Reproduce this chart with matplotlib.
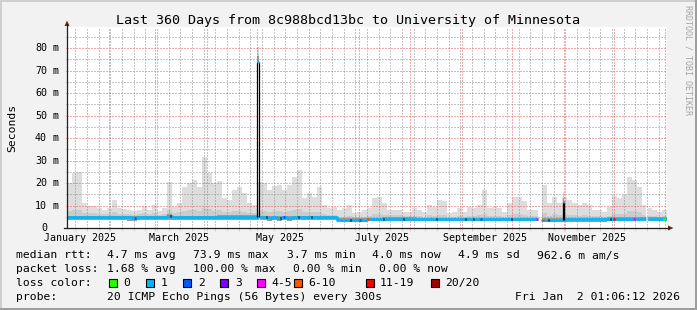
import numpy as np
import matplotlib
matplotlib.use("Agg")
import matplotlib.pyplot as plt
import matplotlib.dates as mdates
import matplotlib.transforms as mtransforms
from matplotlib.patches import Rectangle, Polygon
from matplotlib.lines import Line2D
from matplotlib.ticker import MultipleLocator

# ---------------- data ----------------
title = "Last 360 Days from 8c988bcd13bc to University of Minnesota"
range_start = "2025-01-07T01:06:12"
range_end = "2026-01-02T01:06:12"
bin_days = 3

median_rtt = [
    4.7, 4.7, 4.7, 4.7, 4.7, 4.7, 4.7, 4.7, 4.7, 4.7,
    4.7, 4.7, 4.7, 4.6, 4.7, 4.7, 4.7, 4.7, 4.7, 4.7,
    5.4, 4.7, 4.7, 4.7, 4.7, 4.7, 4.7, 4.7, 4.7, 4.7,
    5.0, 5.0, 5.0, 5.0, 5.0, 5.0, 5.0, 5.0, 4.7, 4.7,
    4.6, 4.7, 4.6, 4.7, 4.6, 4.7, 4.7, 4.7, 4.7, 4.7,
    4.7, 4.7, 4.7, 4.7, 3.6, 3.6, 3.6, 3.6, 3.6, 3.6,
    3.9, 3.9, 3.9, 4.2, 4.2, 4.2, 4.2, 4.2, 4.2, 4.2,
    3.9, 3.9, 3.9, 3.9, 3.9, 3.9, 3.9, 3.9, 3.9, 3.9,
    3.9, 3.9, 3.9, 3.9, 3.9, 3.9, 3.9, 3.9, 3.9, 3.9,
    3.9, 3.9, 3.9, 3.9, 3.9, 3.6, 3.6, 3.6, 3.6, 3.8,
    3.8, 3.8, 3.8, 3.8, 3.8, 3.8, 3.8, 3.8, 4.0, 4.0,
    4.0, 4.0, 4.0, 4.0, 4.0, 4.0, 4.0, 4.0, 4.0, 4.0,
]
smoke_max = [
    20.0, 24.3, 24.7, 11.0, 10.0, 10.0, 8.7, 8.0, 8.7, 12.4,
    8.7, 8.3, 8.0, 7.7, 8.0, 9.8, 8.0, 10.2, 7.7, 8.7,
    20.6, 9.5, 11.0, 18.4, 20.0, 21.3, 18.4, 31.7, 24.3, 19.8,
    21.0, 13.2, 12.4, 16.9, 18.4, 15.4, 11.0, 10.2, 20.6, 19.9,
    16.9, 18.5, 19.0, 16.9, 19.0, 22.8, 26.0, 13.2, 15.4, 13.9,
    18.4, 10.2, 8.7, 9.5, 8.0, 8.7, 10.2, 6.5, 7.3, 8.0,
    8.7, 13.2, 13.9, 11.0, 8.0, 8.0, 8.0, 7.3, 7.3, 8.7,
    8.0, 7.3, 10.2, 9.5, 12.4, 12.0, 6.5, 7.3, 8.7, 7.3,
    9.5, 8.7, 10.2, 16.9, 8.7, 9.5, 8.7, 7.3, 11.0, 13.9,
    13.9, 12.0, 8.0, 8.0, 8.0, 19.1, 11.0, 13.9, 11.0, 13.9,
    12.4, 11.0, 10.2, 11.0, 10.2, 8.0, 8.0, 7.3, 9.5, 14.2,
    13.2, 14.7, 22.8, 21.3, 18.4, 10.2, 8.7, 8.0, 7.3, 8.0,
]
smoke_hi = [
    7.5, 8.0, 8.0, 6.5, 6.5, 6.5, 6.2, 6.2, 6.2, 7.0,
    6.2, 6.2, 6.2, 6.0, 6.2, 6.5, 6.2, 6.5, 6.0, 6.2,
    8.0, 6.5, 7.0, 7.5, 8.0, 8.0, 7.5, 9.0, 8.5, 7.5,
    8.0, 7.2, 7.0, 7.5, 7.5, 7.2, 6.5, 6.5, 7.5, 7.5,
    7.2, 7.5, 7.5, 7.2, 7.5, 8.0, 8.5, 7.0, 7.2, 7.0,
    7.2, 6.2, 6.0, 6.0, 5.0, 5.0, 5.5, 4.8, 5.0, 5.0,
    5.5, 6.2, 6.2, 6.0, 5.6, 5.6, 5.6, 5.2, 5.2, 5.5,
    5.3, 5.0, 5.6, 5.5, 6.0, 6.0, 5.0, 5.0, 5.5, 5.0,
    5.5, 5.5, 5.6, 6.2, 5.5, 5.5, 5.5, 5.0, 6.0, 6.2,
    6.2, 6.0, 5.3, 5.3, 5.3, 6.5, 5.5, 6.2, 5.8, 6.2,
    5.8, 5.6, 5.4, 5.6, 5.4, 5.2, 5.2, 5.0, 5.5, 6.2,
    6.2, 6.2, 7.5, 7.5, 7.0, 5.6, 5.4, 5.2, 5.0, 5.2,
]
smoke_min = [
    3.4, 3.4, 3.4, 3.4, 3.4, 3.4, 3.4, 3.4, 3.4, 3.4,
    3.4, 3.4, 3.3, 3.3, 3.4, 3.4, 3.4, 3.4, 3.4, 3.4,
    3.5, 3.4, 3.4, 3.4, 3.4, 3.4, 3.4, 3.4, 3.4, 3.4,
    3.6, 3.6, 3.6, 3.6, 3.6, 3.6, 3.6, 3.6, 3.4, 3.4,
    3.3, 3.4, 3.3, 3.4, 3.3, 3.4, 3.4, 3.4, 3.4, 3.4,
    3.4, 3.4, 3.4, 3.4, 2.7, 2.7, 2.7, 2.7, 2.7, 2.7,
    2.9, 2.9, 2.9, 3.1, 3.1, 3.1, 3.1, 3.1, 3.1, 3.1,
    2.9, 2.9, 2.9, 2.9, 2.9, 2.9, 2.9, 2.9, 2.9, 2.9,
    2.9, 2.9, 2.9, 2.9, 2.9, 2.9, 2.9, 2.9, 2.9, 2.9,
    2.9, 2.9, 2.9, 2.9, 2.9, 2.6, 2.6, 2.6, 2.6, 2.8,
    2.8, 2.8, 2.8, 2.8, 2.8, 2.8, 2.8, 2.8, 3.0, 3.0,
    3.0, 3.0, 3.0, 3.0, 3.0, 3.0, 3.0, 3.0, 3.0, 3.0,
]

# periods with no data
gap_starts = ["2025-05-02T01:00", "2025-10-16T10:00", "2025-12-20T17:00"]
gap_ends = ["2025-05-03T00:00", "2025-10-19T01:00", "2025-12-21T15:00"]

# short spikes of the median
spike_starts = ["2025-05-01T00:00", "2025-10-31T12:00"]
spike_ends = ["2025-05-02T01:00", "2025-11-01T12:00"]
spike_base = [5.0, 3.7]
spike_rtt = [73.9, 11.7]
spike_smoke = [80.6, 16.1]

# loss coloured spots on the median line
loss_mark_dates = ["2025-02-17", "2025-05-17", "2025-07-02", "2025-07-06T12:00",
                   "2025-09-12T12:00", "2025-10-16", "2025-10-19T12:00",
                   "2025-12-01T12:00", "2025-12-13T12:00", "2025-12-31T12:00"]
loss_mark_counts = [2, 2, 2, 7, 2, 4, 7, 12, 4, 0]
dark_mark_dates = ["2025-03-10", "2025-05-07", "2025-05-15", "2025-05-26",
                   "2025-06-03", "2025-06-26", "2025-07-16", "2025-07-28",
                   "2025-08-17", "2025-09-03", "2025-09-08", "2025-10-01",
                   "2025-10-23", "2025-11-29"]

month_labels = ["January 2025", "March 2025", "May 2025", "July 2025",
                "September 2025", "November 2025"]
month_label_dates = ["2025-01-15", "2025-03-15", "2025-05-15", "2025-07-15",
                     "2025-09-15", "2025-11-15"]
y_tick_values = [0, 10, 20, 30, 40, 50, 60, 70, 80]
y_tick_numbers = ["0", "10", "20", "30", "40", "50", "60", "70", "80"]
y_tick_units = ["", "m", "m", "m", "m", "m", "m", "m", "m"]

rtt_stats = ["4.7 ms avg", "73.9 ms max", "3.7 ms min", "4.0 ms now",
             "4.9 ms sd", "962.6 m am/s"]
loss_stats = ["1.68 % avg", "100.00 % max", "0.00 % min", "0.00 % now"]
loss_labels = ["0", "1", "2", "3", "4-5", "6-10", "11-19", "20/20"]
loss_colors = ["#26ff00", "#00b8ff", "#0059ff", "#7e00ff", "#ff00ff",
               "#ff5500", "#ff0000", "#a10000"]
probe_text = "20 ICMP Echo Pings (56 Bytes) every 300s"
stamp_text = "Fri Jan  2 01:06:12 2026"
watermark = "RRDTOOL / TOBI OETIKER"

# ---------------- style ----------------
W, H, DPI = 697, 310, 100
MONO = "DejaVu Sans Mono"
BACK = "#f2f2f2"
GRID = (0.56, 0.56, 0.56, 0.30)
MGRID = (0.92, 0.35, 0.35, 0.30)
ARROW = (0.5, 0.12, 0.12)
AXIS = (0.12, 0.12, 0.12)


def fx(px):
    return px / W


def fy(py):
    return 1.0 - py / H


def loss_color(n):
    if n <= 0:
        return loss_colors[0]
    if n == 1:
        return loss_colors[1]
    if n == 2:
        return loss_colors[2]
    if n == 3:
        return loss_colors[3]
    if n <= 5:
        return loss_colors[4]
    if n <= 10:
        return loss_colors[5]
    if n <= 19:
        return loss_colors[6]
    return loss_colors[7]


fig = plt.figure(figsize=(W / DPI, H / DPI), dpi=DPI)
fig.patch.set_facecolor(BACK)
ax = fig.add_axes([fx(67), fy(228), 600 / W, 201 / H])
ax.set_facecolor("white")
ax.xaxis_date()

t0 = mdates.date2num(np.datetime64(range_start))
t1 = mdates.date2num(np.datetime64(range_end))
ax.set_xlim(t0, t1)
ax.set_ylim(0, 201 / 2.25)

n = len(median_rtt)
edges = t0 + np.arange(n + 1) * bin_days
gaps = [(mdates.date2num(np.datetime64(a)), mdates.date2num(np.datetime64(b)))
        for a, b in zip(gap_starts, gap_ends)]


def split_by_gaps(a, b):
    segs = [(a, b)]
    for g0, g1 in gaps:
        new = []
        for s0, s1 in segs:
            if g1 <= s0 or g0 >= s1:
                new.append((s0, s1))
                continue
            if s0 < g0:
                new.append((s0, g0))
            if g1 < s1:
                new.append((g1, s1))
        segs = new
    return segs


def step_series(values):
    xs, ys = [], []
    prev_end = None
    for i, v in enumerate(values):
        for a, b in split_by_gaps(edges[i], edges[i + 1]):
            if prev_end is not None and abs(a - prev_end) > 1e-9:
                xs.append(prev_end)
                ys.append(np.nan)
            xs += [a, b]
            ys += [v, v]
            prev_end = b
    return np.array(xs), np.array(ys, dtype=float)


xs, y_med = step_series(median_rtt)
_, y_max = step_series(smoke_max)
_, y_hi = step_series(smoke_hi)
_, y_min = step_series(smoke_min)

# smoke layers
ax.fill_between(xs, y_min, y_max, color="#dddddd", lw=0, zorder=1)
ax.fill_between(xs, y_min, y_hi, color="#cbcbcb", lw=0, zorder=1.05)
ax.fill_between(xs, y_min, y_med + 0.7, color="#9c9c9c", lw=0, zorder=1.1)

# grid via the axis locators
ax.set_axisbelow("line")
ax.xaxis.set_major_locator(mdates.MonthLocator())
ax.xaxis.set_minor_locator(mdates.WeekdayLocator(byweekday=mdates.SU))
ax.yaxis.set_major_locator(MultipleLocator(10))
ax.yaxis.set_minor_locator(MultipleLocator(5))
dots = (0, (1, 2))
ax.grid(which="major", color=MGRID, linestyle=dots, linewidth=0.72)
ax.grid(which="minor", color=GRID, linestyle=dots, linewidth=0.72)
ax.tick_params(which="both", labelbottom=False, labelleft=False,
               direction="out", length=1.8, width=0.72)
ax.tick_params(which="major", color=MGRID)
ax.tick_params(which="minor", color=GRID)
for s in ax.spines.values():
    s.set_visible(False)

# median line
ax.plot(xs, y_med, color=loss_colors[1], lw=1.9, solid_capstyle="butt", zorder=3)


def median_at(t):
    i = int((t - t0) // bin_days)
    i = max(0, min(n - 1, i))
    return median_rtt[i]


for d, c in zip(loss_mark_dates, loss_mark_counts):
    t = mdates.date2num(np.datetime64(d))
    ax.hlines(median_at(t), t - 0.6, t + 0.6, color=loss_color(c), lw=1.9, zorder=3.5)
for d in dark_mark_dates:
    t = mdates.date2num(np.datetime64(d))
    ax.hlines(median_at(t), t - 0.3, t + 0.3, color="black", lw=1.9, zorder=3.5)

# spikes
for s0, s1, base, rtt, top in zip(spike_starts, spike_ends, spike_base,
                                  spike_rtt, spike_smoke):
    a = mdates.date2num(np.datetime64(s0))
    b = mdates.date2num(np.datetime64(s1))
    ax.fill_between([a, b], [rtt, rtt], [top, top], color="#d6d6d6", lw=0, zorder=1.2)
    ax.fill_between([a, b], [rtt, rtt], [rtt + (top - rtt) * 0.35] * 2,
                    color="#9a9a9a", lw=0, zorder=1.25)
    ax.vlines([a, b], base, rtt, color="black", lw=0.9, zorder=3.6)
    ax.hlines(rtt, a, b, color=loss_colors[1], lw=1.9, zorder=3.7)

# axes lines and arrows
fig.add_artist(Line2D([fx(67), fx(67)], [fy(228), fy(24)], color=AXIS, lw=0.9))
fig.add_artist(Line2D([fx(64), fx(669)], [fy(228), fy(228)], color=AXIS, lw=0.9))
fig.add_artist(Polygon([(fx(64.5), fy(26)), (fx(69.5), fy(26)), (fx(67), fy(20.5))],
                       closed=True, color=ARROW, lw=0))
fig.add_artist(Polygon([(fx(668), fy(225.5)), (fx(668), fy(230.5)), (fx(673.5), fy(228))],
                       closed=True, color=ARROW, lw=0))

# y tick labels
ylab_tr = mtransforms.blended_transform_factory(fig.transFigure, ax.transData)
off = mtransforms.ScaledTranslation(0, -3.2 / DPI, fig.dpi_scale_trans)
for v, num, unit in zip(y_tick_values, y_tick_numbers, y_tick_units):
    fig.text(fx(47), v, num, transform=ylab_tr + off, ha="right", va="baseline",
             fontsize=7.2, family=MONO)
    if unit:
        fig.text(fx(53), v, unit, transform=ylab_tr + off, ha="left", va="baseline",
                 fontsize=7.2, family=MONO)

# x labels
xlab_tr = mtransforms.blended_transform_factory(ax.transData, fig.transFigure)
for lab, d in zip(month_labels, month_label_dates):
    ax.text(mdates.date2num(np.datetime64(d)), fy(241), lab, transform=xlab_tr,
            ha="center", va="baseline", fontsize=7.2, family=MONO, clip_on=False)

# titles
fig.text(fx(348.5), fy(24), title, ha="center", va="baseline", fontsize=9.6, family=MONO)
fig.text(fx(12), fy(127.5), "Seconds", rotation=90, ha="center", va="center",
         fontsize=8.2, family=MONO)
fig.text(fx(688), fy(5), watermark, rotation=270, ha="center", va="top",
         fontsize=6.0, family=MONO, color="#a5a5a5")

# legend
LF = 8.2
rows = [258.5, 272.3, 286.0, 300.0]
fig.text(fx(16), fy(rows[0]), "median rtt:", fontsize=LF, family=MONO, va="baseline")
for s, x in zip(rtt_stats, [107, 193, 287, 372, 458, 537]):
    fig.text(fx(x), fy(rows[0]), s, fontsize=LF, family=MONO, va="baseline")
fig.text(fx(16), fy(rows[1]), "packet loss:", fontsize=LF, family=MONO, va="baseline")
for s, x in zip(loss_stats, [107, 193, 293, 379]):
    fig.text(fx(x), fy(rows[1]), s, fontsize=LF, family=MONO, va="baseline")
fig.text(fx(16), fy(rows[2]), "loss color:", fontsize=LF, family=MONO, va="baseline")
box_x = [108.5, 145.5, 182.5, 219.5, 256.5, 293.5, 366, 431]
lab_x = [123.3, 161, 198.3, 235, 271.7, 308.3, 380, 445]
for lab, col, bx, lx in zip(loss_labels, loss_colors, box_x, lab_x):
    fig.add_artist(Rectangle((fx(bx), fy(286.5)), 8 / W, 8 / H, facecolor=col,
                             edgecolor="black", lw=0.8, transform=fig.transFigure))
    fig.text(fx(lx), fy(rows[2]), lab, fontsize=LF, family=MONO, va="baseline")
fig.text(fx(16), fy(rows[3]), "probe:", fontsize=LF, family=MONO, va="baseline")
fig.text(fx(107), fy(rows[3]), probe_text, fontsize=LF, family=MONO, va="baseline")
fig.text(fx(680), fy(rows[3]), stamp_text, fontsize=LF, family=MONO, va="baseline",
         ha="right")

# frame shading
fig.add_artist(Rectangle((0, fy(2)), 1, 2 / H, color="#cfcfcf", lw=0, transform=fig.transFigure))
fig.add_artist(Rectangle((0, 0), 2 / W, 1, color="#cfcfcf", lw=0, transform=fig.transFigure))
fig.add_artist(Rectangle((0, 0), 1, 2 / H, color="#9e9e9e", lw=0, transform=fig.transFigure))
fig.add_artist(Rectangle((fx(W - 2), 0), 2 / W, 1, color="#9e9e9e", lw=0, transform=fig.transFigure))

fig.savefig("out.png", dpi=DPI, facecolor=fig.get_facecolor())
